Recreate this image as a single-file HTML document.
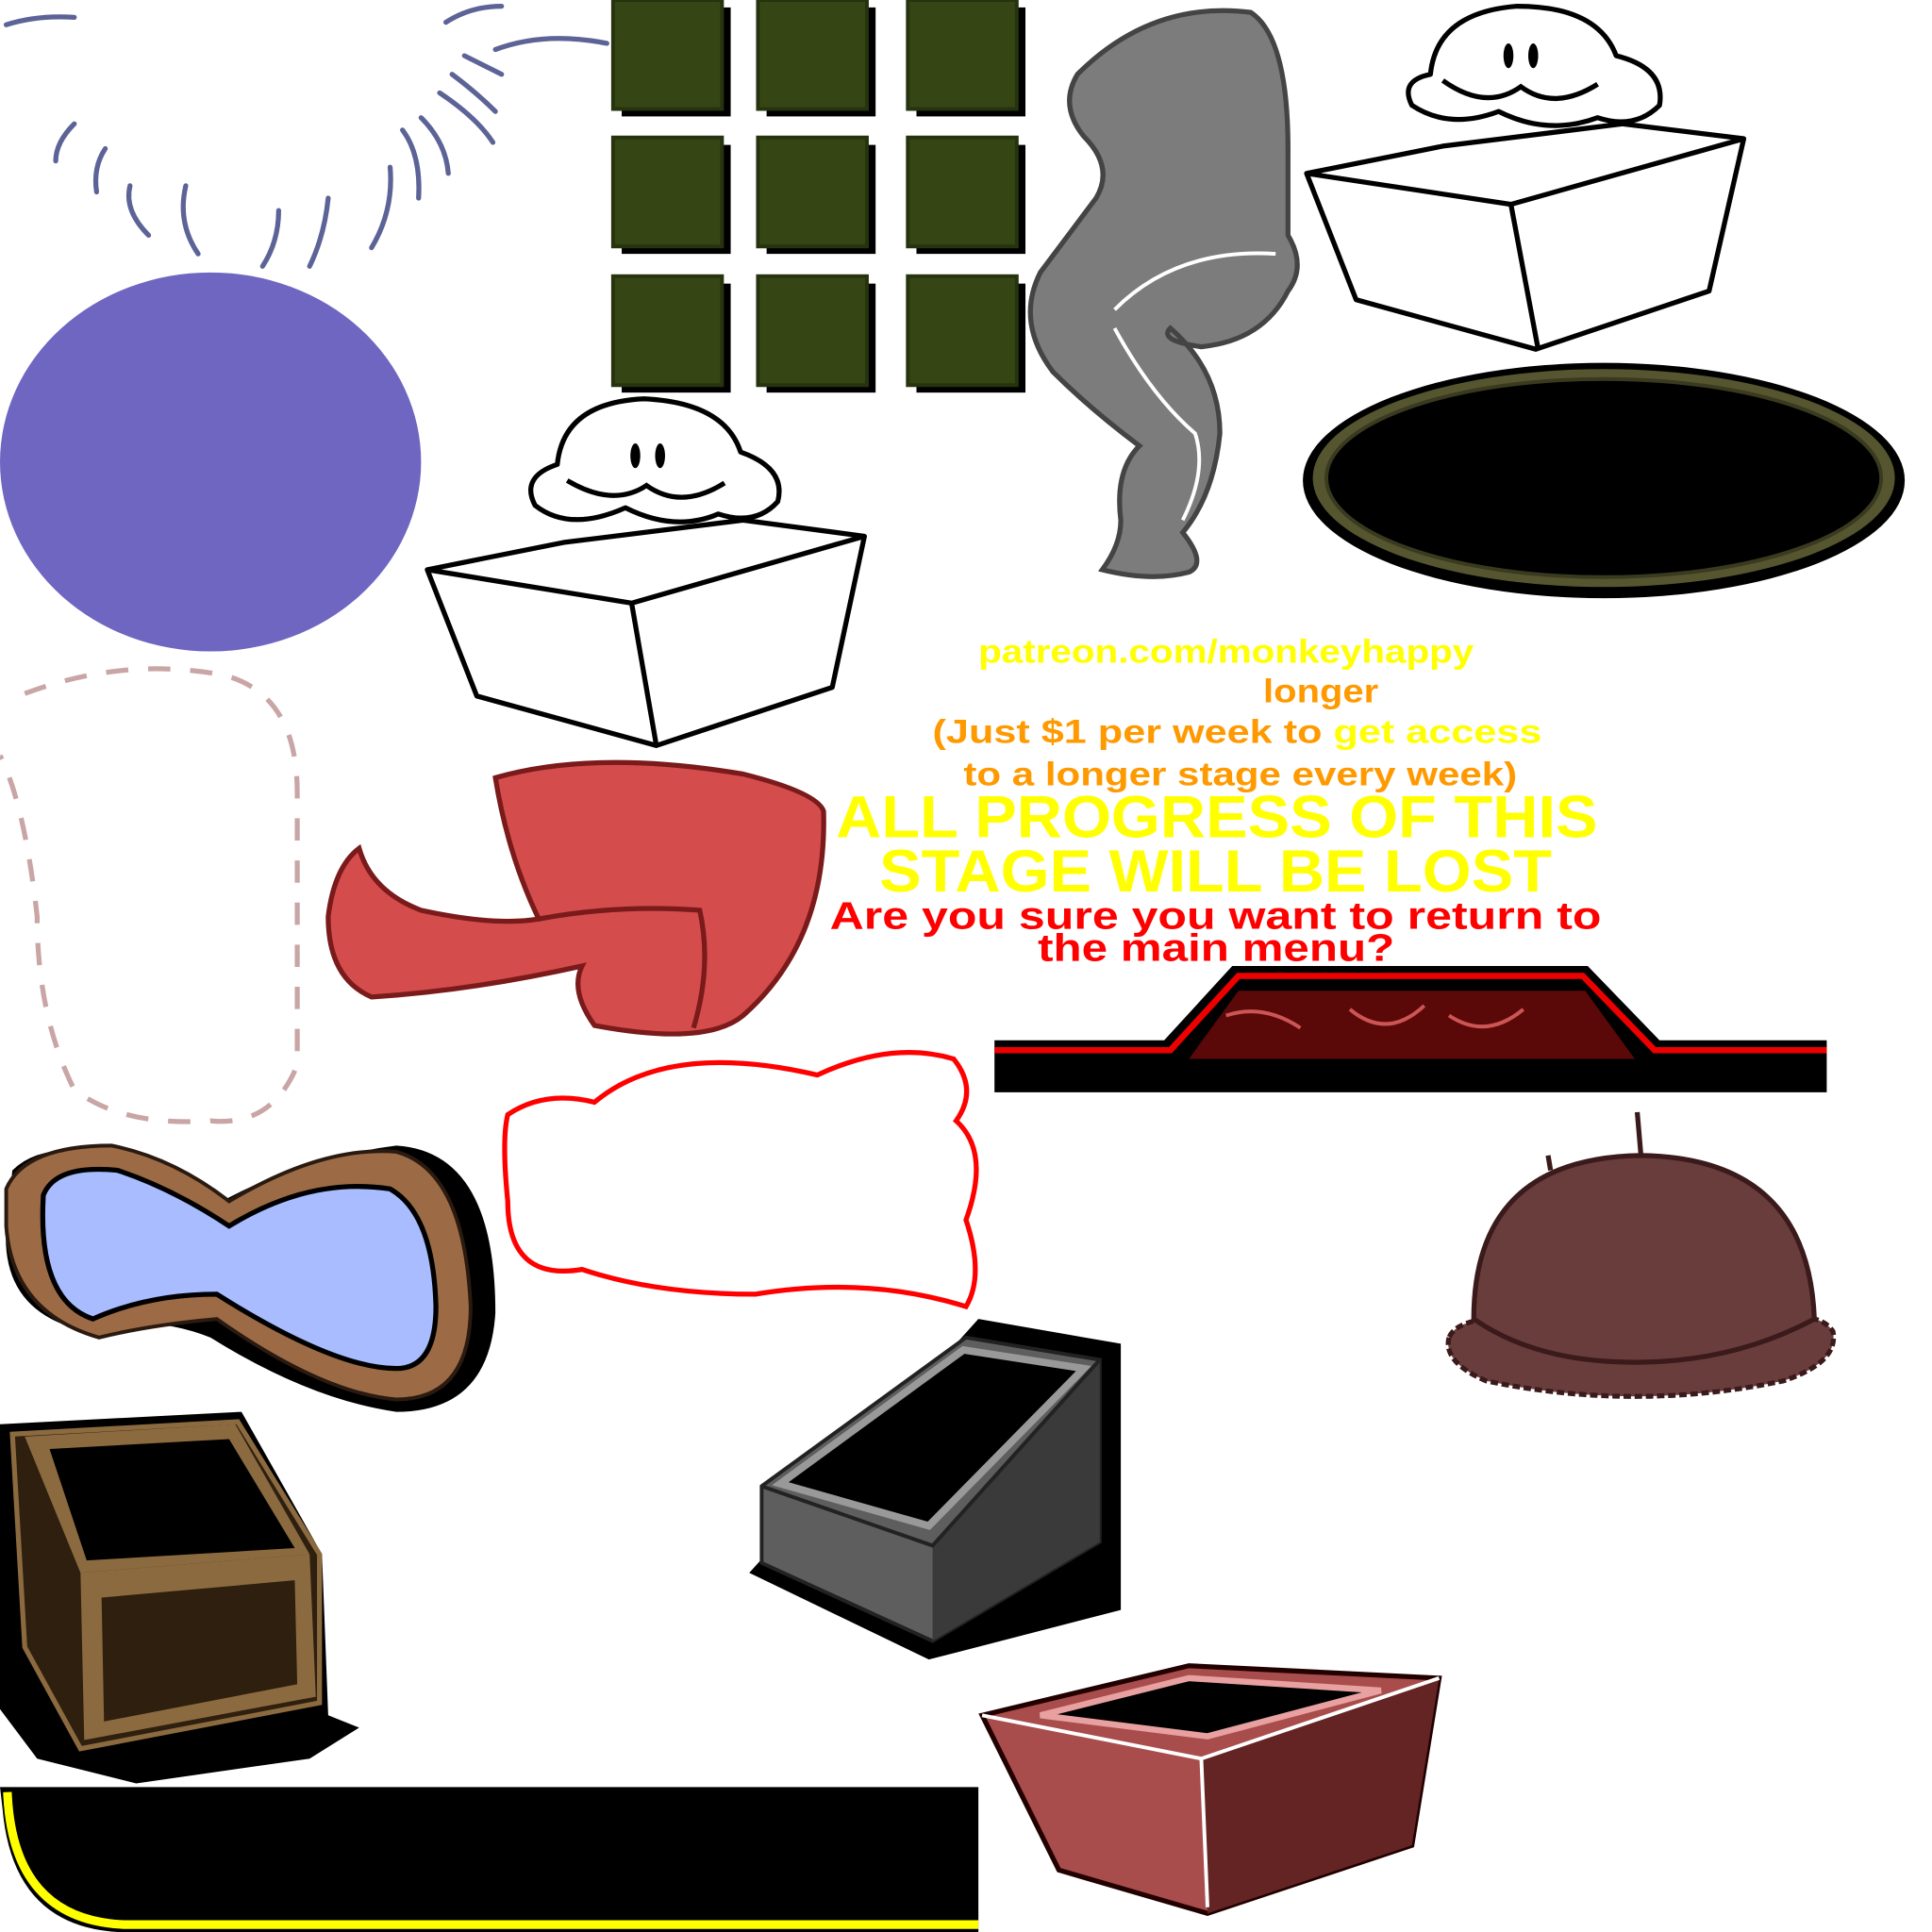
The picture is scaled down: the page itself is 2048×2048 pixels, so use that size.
<!DOCTYPE html>
<html><head><meta charset="utf-8"><style>
html,body{margin:0;padding:0;background:#fff;}
svg{display:block;}
text{font-family:"Liberation Sans",Arial,sans-serif;font-weight:bold;}
</style></head><body>
<svg width="2048" height="2048" viewBox="0 0 1560 1560" xmlns="http://www.w3.org/2000/svg">
<g fill="none" stroke="#5c6396" stroke-width="4" stroke-linecap="round">
<path d="M5,20 Q30,12 60,14"/>
<path d="M360,18 Q380,5 405,5"/>
<path d="M400,40 Q440,25 490,35"/>
<path d="M375,45 Q395,55 405,60"/>
<path d="M365,60 Q385,75 400,90"/>
<path d="M355,75 Q385,95 398,115"/>
<path d="M60,100 Q45,115 45,130"/>
<path d="M85,120 Q75,135 78,155"/>
<path d="M105,150 Q100,170 120,190"/>
<path d="M150,150 Q143,180 160,205"/>
<path d="M225,170 Q225,195 212,215"/>
<path d="M265,160 Q262,190 250,215"/>
<path d="M315,135 Q318,170 300,200"/>
<path d="M325,105 Q340,125 338,160"/>
<path d="M340,95 Q360,115 362,140"/>
</g>
<ellipse cx="170" cy="373" rx="170" ry="153" fill="#6e66c0"/>
<g>
<g fill="#000">
<rect x="502" y="6" width="88" height="88"/><rect x="619" y="6" width="88" height="88"/><rect x="740" y="6" width="88" height="88"/>
<rect x="502" y="117" width="88" height="88"/><rect x="619" y="117" width="88" height="88"/><rect x="740" y="117" width="88" height="88"/>
<rect x="502" y="229" width="88" height="88"/><rect x="619" y="229" width="88" height="88"/><rect x="740" y="229" width="88" height="88"/>
</g>
<g fill="#354614" stroke="#26330e" stroke-width="3">
<rect x="495" y="0" width="88" height="88"/><rect x="612" y="0" width="88" height="88"/><rect x="733" y="0" width="88" height="88"/>
<rect x="495" y="111" width="88" height="88"/><rect x="612" y="111" width="88" height="88"/><rect x="733" y="111" width="88" height="88"/>
<rect x="495" y="223" width="88" height="88"/><rect x="612" y="223" width="88" height="88"/><rect x="733" y="223" width="88" height="88"/>
</g></g>
<path d="M870,60 Q930,0 1010,10 Q1040,30 1040,120 L1040,190 Q1055,215 1040,235 Q1020,275 970,280 Q935,275 945,265 Q985,300 985,350 Q980,400 955,430 Q975,455 960,462 Q930,470 890,460 Q905,440 905,420 Q900,380 920,360 Q880,330 850,300 Q820,260 840,220 Q870,180 885,160 Q900,135 875,110 Q855,85 870,60 Z" fill="#7c7c7c" stroke="#444" stroke-width="4"/>
<path d="M900,250 Q950,200 1030,205" fill="none" stroke="#fff" stroke-width="3"/>
<path d="M900,265 Q930,320 965,350 Q975,380 955,420" fill="none" stroke="#fff" stroke-width="3"/>
<g fill="#fff" stroke="#000" stroke-width="4" stroke-linejoin="round">
<path d="M1155,60 Q1160,10 1225,5 Q1290,5 1305,45 Q1345,55 1340,85 Q1320,105 1290,95 Q1250,110 1210,90 Q1170,105 1140,85 Q1130,65 1155,60 Z"/>
<path d="M1055,140 L1165,118 L1310,100 L1408,112 L1380,235 L1240,282 L1095,242 Z"/>
<path d="M1055,140 L1220,165 L1408,112" fill="none"/>
<path d="M1220,165 L1242,282" fill="none"/>
</g>
<ellipse cx="1218" cy="45" rx="4" ry="10"/><ellipse cx="1238" cy="45" rx="4" ry="10"/>
<path d="M1165,65 Q1200,90 1228,70 Q1255,90 1290,68" fill="none" stroke="#000" stroke-width="4"/>
<ellipse cx="1295" cy="388" rx="243" ry="95" fill="#000"/>
<ellipse cx="1295" cy="386" rx="235" ry="88" fill="#55552f"/>
<ellipse cx="1295" cy="386" rx="224" ry="80" fill="#000" stroke="#3a3a20" stroke-width="3"/>
<ellipse cx="1297" cy="390" rx="208" ry="70" fill="#000"/>
<g fill="#fff" stroke="#000" stroke-width="4" stroke-linejoin="round">
<path d="M450,375 Q455,325 520,322 Q585,325 598,365 Q635,378 628,405 Q610,425 580,415 Q545,430 505,410 Q460,430 432,408 Q420,385 450,375 Z"/>
<path d="M345,460 L455,438 L600,420 L698,433 L672,555 L530,602 L385,562 Z"/>
<path d="M345,460 L510,487 L698,433" fill="none"/>
<path d="M510,487 L530,602" fill="none"/>
</g>
<ellipse cx="513" cy="368" rx="4" ry="10"/><ellipse cx="533" cy="368" rx="4" ry="10"/>
<path d="M458,388 Q495,410 522,392 Q550,412 585,390" fill="none" stroke="#000" stroke-width="4"/>
<path d="M20,560 Q100,530 180,545 Q240,560 240,640 L240,860 Q220,910 170,905 Q100,910 60,880 Q30,820 30,740 Q20,650 0,610" fill="none" stroke="#c9a5a5" stroke-width="4" stroke-dasharray="18,16"/>
<path d="M400,628 Q480,605 600,625 Q660,640 665,655 Q668,760 600,820 Q570,845 480,828 Q460,800 470,780 Q380,800 300,805 Q265,790 265,740 Q270,700 290,685 Q300,720 340,735 Q400,748 435,742 Q410,690 400,628 Z" fill="#d44c4c" stroke="#7a1a1a" stroke-width="4"/>
<path d="M435,742 Q500,730 565,735 Q575,780 560,830" fill="none" stroke="#7a1a1a" stroke-width="4"/>
<g lengthAdjust="spacingAndGlyphs">
<text x="790" y="535" font-size="27" fill="#ffff00" textLength="400" lengthAdjust="spacingAndGlyphs">patreon.com/monkeyhappy</text>
<text x="1020" y="567" font-size="27" fill="#ff9900" textLength="93" lengthAdjust="spacingAndGlyphs">longer</text>
<text x="753" y="600" font-size="27" fill="#ff9900" textLength="492" lengthAdjust="spacingAndGlyphs">(Just $1 per week to <tspan fill="#ffff00">get access</tspan></text>
<text x="778" y="634" font-size="27" fill="#ff9900" textLength="447" lengthAdjust="spacingAndGlyphs">to a longer stage every week)</text>
<text x="675" y="676" font-size="48" fill="#ffff00" textLength="615" lengthAdjust="spacingAndGlyphs">ALL PROGRESS OF THIS</text>
<text x="710" y="720" font-size="48" fill="#ffff00" textLength="543" lengthAdjust="spacingAndGlyphs">STAGE WILL BE LOST</text>
<text x="670" y="750" font-size="31" fill="#ff0000" textLength="623" lengthAdjust="spacingAndGlyphs">Are you sure you want to return to</text>
<text x="838" y="776" font-size="31" fill="#ff0000" textLength="288" lengthAdjust="spacingAndGlyphs">the main menu?</text>
</g>
<path d="M803,840 L940,840 L995,780 L1282,780 L1340,840 L1475,840 L1475,882 L803,882 Z" fill="#000"/>
<path d="M803,848 L945,848 L1000,788 L1278,788 L1336,848 L1475,848" fill="none" stroke="#e00" stroke-width="5"/>
<path d="M960,855 L1000,800 L1280,800 L1320,855 Z" fill="#5a0808"/>
<path d="M990,820 Q1020,810 1050,830 M1090,815 Q1120,840 1150,812 M1170,820 Q1200,840 1230,815" fill="none" stroke="#c55" stroke-width="3"/>
<path d="M410,900 Q440,880 480,890 Q540,840 660,868 Q720,840 770,855 Q790,880 772,905 Q800,930 780,985 Q795,1030 780,1055 Q700,1030 610,1045 Q530,1045 470,1025 Q410,1035 410,970 Q405,920 410,900 Z" fill="#fff" stroke="#f00" stroke-width="4"/>
<path d="M1170,1080 Q1165,1100 1200,1115 Q1320,1140 1440,1115 Q1485,1100 1480,1075 Q1470,1060 1440,1065 L1200,1065 Q1175,1068 1170,1080 Z" fill="#6a3d3d" stroke="#3a1a1a" stroke-width="4" stroke-dasharray="6,3"/>
<path d="M1190,1065 Q1190,935 1325,933 Q1460,935 1465,1065 Q1400,1100 1320,1100 Q1240,1100 1190,1065 Z" fill="#6a3d3d" stroke="#3a1a1a" stroke-width="4"/>
<path d="M1325,933 L1322,898 M1252,945 L1250,933" stroke="#3a1a1a" stroke-width="4"/>
<path d="M10,945 Q40,915 120,940 L170,975 Q240,935 320,925 Q400,930 400,1060 Q395,1140 320,1140 Q250,1130 170,1080 Q120,1060 70,1075 Q0,1060 5,990 Z" fill="#000"/>
<path d="M5,960 Q20,925 90,925 Q140,935 185,970 Q260,925 320,930 Q375,945 380,1055 Q380,1130 320,1130 Q260,1125 175,1065 Q120,1070 80,1080 Q10,1060 5,990 Z" fill="#9c6b46" stroke="#2a1a10" stroke-width="3"/>
<path d="M35,965 Q45,940 95,945 Q140,960 185,990 Q250,950 315,960 Q350,980 352,1055 Q352,1105 320,1105 Q270,1105 175,1045 Q120,1045 75,1065 Q30,1050 35,965 Z" fill="#a8bcff" stroke="#000" stroke-width="4"/>
<path d="M605,1270 L790,1065 L905,1085 L905,1300 L750,1340 Z" fill="#000"/>
<path d="M615,1200 L780,1080 L888,1098 L888,1245 L753,1325 L615,1262 Z" fill="#5e5e5e" stroke="#222" stroke-width="3"/>
<path d="M753,1248 L888,1098 L888,1245 L753,1325 Z" fill="#3a3a3a"/>
<path d="M615,1200 L753,1248 L888,1098" fill="none" stroke="#222" stroke-width="3"/>
<path d="M630,1198 L778,1090 L875,1105 L750,1232 Z" fill="#000" stroke="#999" stroke-width="6"/>
<path d="M0,1150 L195,1140 L260,1255 L265,1385 L290,1395 L250,1420 L110,1440 L30,1420 L0,1380 Z" fill="#000"/>
<path d="M10,1158 L192,1148 L258,1255 L258,1375 L65,1412 L20,1330 Z" fill="#2e1f0e" stroke="#8c6a40" stroke-width="4"/>
<path d="M20,1160 L190,1150 L250,1255 L65,1270 Z" fill="#8c6a40"/>
<path d="M40,1170 L185,1162 L238,1250 L70,1260 Z" fill="#000"/>
<path d="M65,1270 L250,1255 L255,1370 L68,1405 Z" fill="#8c6a40"/>
<path d="M82,1290 L238,1276 L240,1360 L84,1390 Z" fill="#2e1f0e"/>
<path d="M793,1385 L960,1345 L1162,1355 L1140,1490 L975,1545 L855,1510 Z" fill="#a84c4c" stroke="#200" stroke-width="4"/>
<path d="M970,1420 L1162,1355 L1140,1490 L975,1545 Z" fill="#642424"/>
<path d="M793,1385 L970,1420 L1162,1355" fill="none" stroke="#fff" stroke-width="3"/>
<path d="M970,1420 L975,1540" stroke="#fff" stroke-width="3"/>
<path d="M840,1385 L960,1355 L1115,1365 L975,1402 Z" fill="#000" stroke="#e8a0a0" stroke-width="5"/>
<path d="M0,1443 L790,1443 L790,1560 L95,1560 Q10,1555 2,1460 Z" fill="#000"/>
<path d="M6,1447 Q10,1550 100,1554 L790,1554" fill="none" stroke="#ffff00" stroke-width="7"/>
</svg>
</body></html>
